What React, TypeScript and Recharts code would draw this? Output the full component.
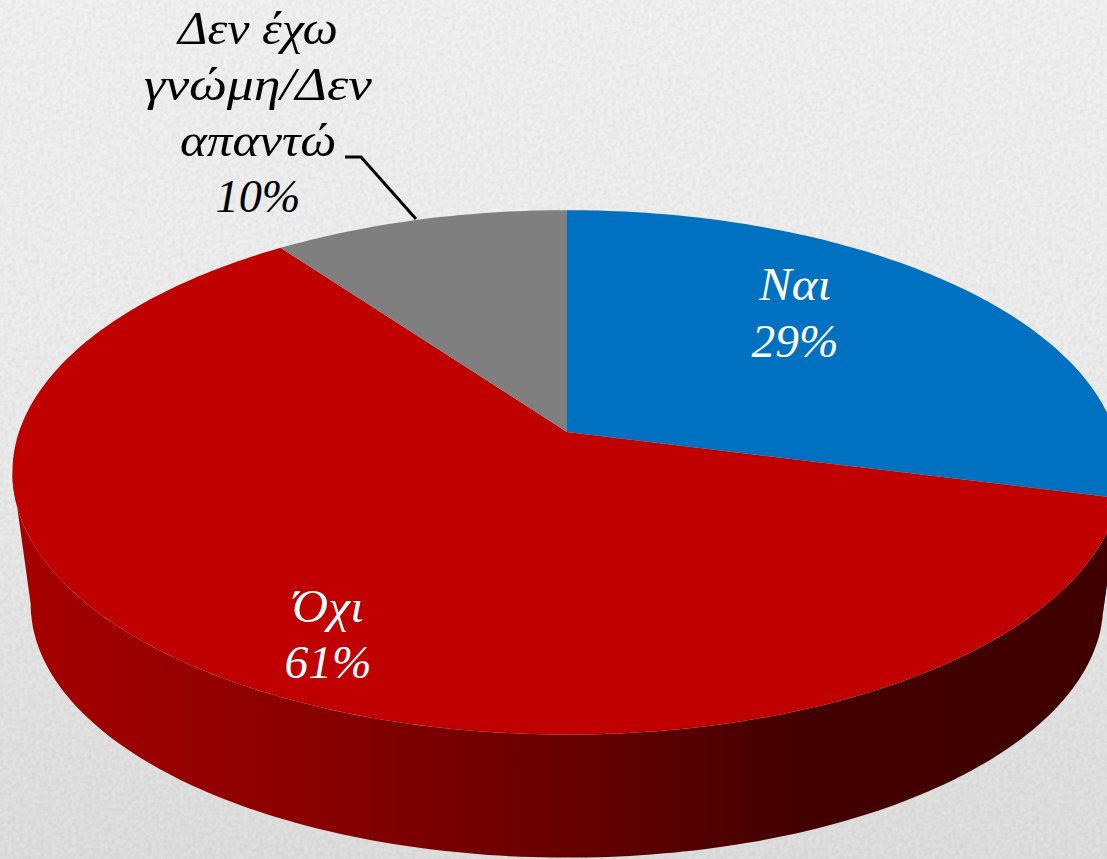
import { Pie, PieChart } from "recharts";

// 3D pie look: recharts supplies the slice angles, the custom shapes project them.
const categories = ["Ναι", "Όχι", "Δεν έχω\nγνώμη/Δεν\nαπαντώ"];
const values = [29, 61, 10];
const topColors = ["#0070c0", "#c00000", "#7f7f7f"];
const rimColors = ["#00395f", "url(#rimRed)", "#404040"];

// text anchors [x, first baseline, line height]
const labelSpots = [
  [795, 300, 57],
  [328, 622, 56],
  [258, 44, 56],
];
// the installed italic runs narrower than the original one, so widths are pinned per line
const labelWidths = [
  [72, 87],
  [72, 87],
  [160, 228, 156, 85],
];
const labelColors = ["#ffffff", "#ffffff", "#000000"];
const fontFamily = '"Liberation Serif", serif';

const CX = 567;
const CY = 432;
const A = 548;
const B = 256;
const PERSP = 0.154;
const RIM_DROP = 133;
const RIM_SCALE = 0.967;

const rows = categories.map((name, i) => ({
  name,
  value: values[i],
  fill: topColors[i],
  rim: rimColors[i],
}));

// theta in degrees, clockwise from 12 o'clock
function project(theta: number, scale = 1, drop = 0) {
  const t = (theta * Math.PI) / 180;
  const k = 1 / (1 + PERSP * Math.cos(t));
  return [CX + A * scale * Math.sin(t) * k, CY + drop - B * scale * Math.cos(t) * k];
}

function arcPoints(from: number, to: number, scale = 1, drop = 0) {
  const n = Math.max(2, Math.ceil(Math.abs(to - from)));
  const pts: number[][] = [];
  for (let i = 0; i <= n; i++) pts.push(project(from + ((to - from) * i) / n, scale, drop));
  return pts;
}

const toPath = (pts: number[][]) =>
  pts.map((p, i) => `${i ? "L" : "M"}${p[0].toFixed(1)} ${p[1].toFixed(1)}`).join(" ") + " Z";

function TopSlice(props: any) {
  const from = 90 - props.startAngle;
  const to = 90 - props.endAngle;
  return <path d={toPath([[CX, CY], ...arcPoints(from, to)])} fill={props.fill} />;
}

function RimSlice(props: any) {
  // only the part facing the viewer
  const from = Math.max(90 - props.startAngle, 98.9);
  const to = Math.min(90 - props.endAngle, 261.1);
  if (to <= from) return <g />;
  const pts = [...arcPoints(from, to), ...arcPoints(to, from, RIM_SCALE, RIM_DROP)];
  return <path d={toPath(pts)} fill={props.payload?.rim ?? props.rim} />;
}

function SliceLabel(props: any) {
  const i = props.index;
  const [x, y, lh] = labelSpots[i];
  const lines = [...categories[i].split("\n"), `${values[i]}%`];
  return (
    <g>
      {i === 2 && <polyline points="345,157 361,157 416,219" fill="none" stroke="#000" strokeWidth={3} />}
      {lines.map((l, j) => (
        <text
          key={j}
          x={x}
          y={y + j * lh}
          textAnchor="middle"
          fontFamily={fontFamily}
          fontStyle="italic"
          fontSize={47}
          fill={labelColors[i]}
          textLength={labelWidths[i][j]}
          lengthAdjust="spacingAndGlyphs"
        >
          {l}
        </text>
      ))}
    </g>
  );
}

export default function App() {
  return (
    <div
      style={{
        position: "absolute",
        left: 0,
        top: 0,
        width: 1107,
        height: 859,
        overflow: "hidden",
        background: "linear-gradient(180deg, #f1f1f1 0%, #ececec 50%, #dedede 100%)",
      }}
    >
      <PieChart width={1107} height={859} margin={{ top: 0, right: 0, bottom: 0, left: 0 }}>
        <defs>
          <linearGradient id="rimRed" gradientUnits="userSpaceOnUse" x1="0" y1="0" x2="1107" y2="0">
            <stop offset="0" stopColor="#a80000" />
            <stop offset="0.27" stopColor="#8a0000" />
            <stop offset="0.51" stopColor="#680000" />
            <stop offset="0.72" stopColor="#430000" />
            <stop offset="1" stopColor="#400000" />
          </linearGradient>
          <filter id="paper" x="0" y="0" width="100%" height="100%">
            <feTurbulence type="fractalNoise" baseFrequency="0.25" numOctaves={2} seed={4} />
            <feColorMatrix values="0 0 0 0 0  0 0 0 0 0  0 0 0 0 0  0.5 0 0 0 -0.16" />
          </filter>
        </defs>
        <rect x={0} y={0} width={1107} height={859} filter="url(#paper)" opacity={0.18} />
        <Pie
          data={rows}
          dataKey="value"
          cx={CX}
          cy={CY}
          outerRadius={B}
          startAngle={90}
          endAngle={-270}
          shape={RimSlice}
          stroke="none"
          isAnimationActive={false}
        />
        <Pie
          data={rows}
          dataKey="value"
          cx={CX}
          cy={CY}
          outerRadius={B}
          startAngle={90}
          endAngle={-270}
          shape={TopSlice}
          stroke="none"
          label={SliceLabel}
          labelLine={false}
          isAnimationActive={false}
        />
      </PieChart>
    </div>
  );
}
